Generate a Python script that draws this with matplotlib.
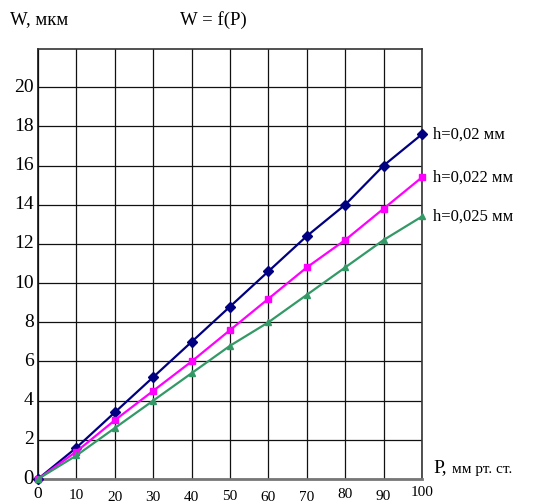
import matplotlib
matplotlib.use("Agg")
import matplotlib.pyplot as plt

plt.rcParams['font.family'] = ['Liberation Serif', 'DejaVu Serif']

pressure = [0, 10, 20, 30, 40, 50, 60, 70, 80, 90, 100]
w_h002 = [0, 1.6, 3.4, 5.2, 7.0, 8.8, 10.6, 12.4, 14.0, 16.0, 17.6]
w_h0022 = [0, 1.4, 3.0, 4.5, 6.0, 7.6, 9.2, 10.8, 12.2, 13.8, 15.4]
w_h0025 = [0, 1.2, 2.6, 4.0, 5.4, 6.8, 8.0, 9.4, 10.8, 12.2, 13.4]
series_labels = ["h=0,02 мм", "h=0,022 мм", "h=0,025 мм"]
x_ticks = [0, 10, 20, 30, 40, 50, 60, 70, 80, 90, 100]
y_ticks = [0, 2, 4, 6, 8, 10, 12, 14, 16, 18, 20]

fig = plt.figure(figsize=(5.33, 5.03), dpi=100)
ax = fig.add_axes([38 / 533, 24 / 503, 384 / 533, 430 / 503])
ax.set_xlim(0, 100)
ax.set_ylim(0, 21.95)

ax.set_xticks(x_ticks)
ax.set_yticks(y_ticks)
ax.grid(True, color='#111111', linewidth=0.9)
ax.set_axisbelow(True)
ax.tick_params(length=0)
ax.set_xticklabels([])
ax.set_yticklabels([])

for side in ('top', 'right'):
    ax.spines[side].set_color('#333333')
    ax.spines[side].set_linewidth(1.2)
ax.spines['left'].set_color('#111111')
ax.spines['left'].set_linewidth(1.2)
ax.spines['bottom'].set_color('#777777')
ax.spines['bottom'].set_linewidth(2.0)

styles = [
    dict(color='#000080', marker='D', markersize=5.5),
    dict(color='#FF00FF', marker='s', markersize=4.5),
    dict(color='#339966', marker='^', markersize=4.5),
]
for values, label, st in zip([w_h002, w_h0022, w_h0025], series_labels, styles):
    ax.plot(pressure, values, linewidth=1.6, clip_on=False, zorder=3, **st)
    ax.annotate(label, xy=(pressure[-1], values[-1]), xytext=(8, 0),
                textcoords='offset points', va='center', ha='left',
                fontsize=12, annotation_clip=False)

# y tick labels
for v in y_ticks:
    ax.annotate(str(v), xy=(0, v), xytext=(-3, 0), textcoords='offset points',
                ha='right', va='center', fontsize=14 if v else 15,
                annotation_clip=False)

# x tick labels, slightly staggered
x_offsets = [-10.5, -12, -13, -13.5, -13, -12.5, -13, -13, -11.5, -12.5, -9.5]
for v, dy in zip(x_ticks, x_offsets):
    ax.annotate(str(v), xy=(v, 0), xytext=(0, dy), textcoords='offset points',
                ha='center', va='center', fontsize=12.5 if v == 0 else 11,
                annotation_clip=False)

fig.text(10 / 533, 1 - 20 / 503, "W, мкм", fontsize=13.5, va='center', ha='left')
fig.text(180 / 533, 1 - 20 / 503, "W = f(P)", fontsize=13.5, va='center', ha='left')
fig.text(433 / 533, 1 - 468 / 503, "P,", fontsize=14, va='center', ha='left')
fig.text(452 / 533, 1 - 469 / 503, "мм рт. ст.", fontsize=11, va='center', ha='left')

fig.savefig("out.png", dpi=100)
